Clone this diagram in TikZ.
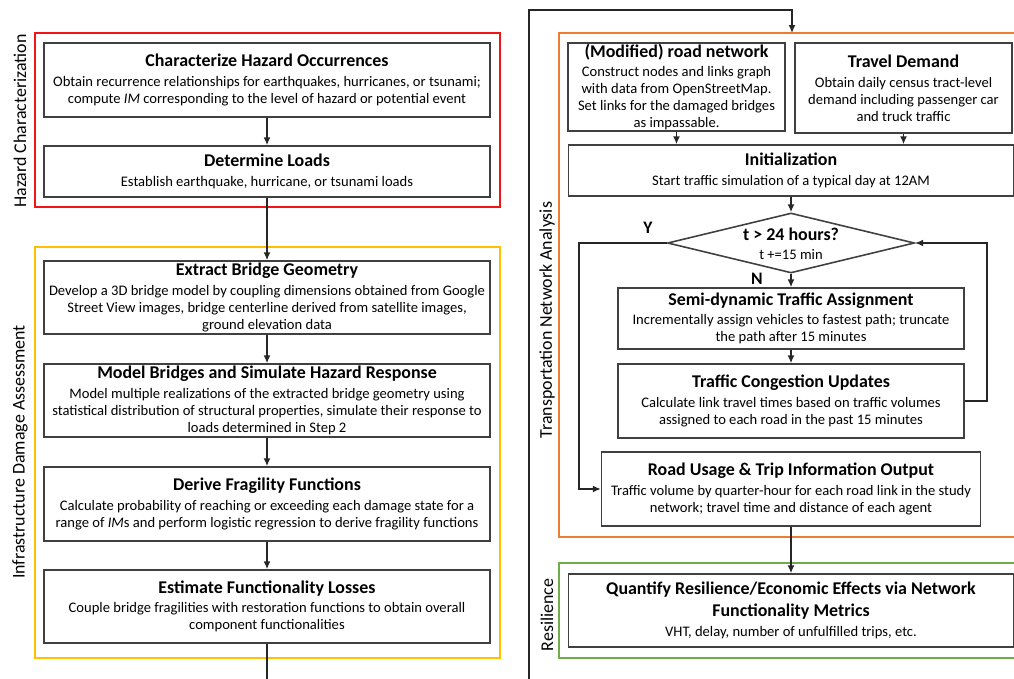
\documentclass[tikz,border=0pt]{standalone}
\usepackage{fontspec}
\setmainfont{Carlito}
\usetikzlibrary{positioning,shapes.geometric,arrows.meta}

\definecolor{hazred}{RGB}{240,20,20}
\definecolor{damgold}{RGB}{255,192,0}
\definecolor{netorange}{RGB}{237,125,49}
\definecolor{resgreen}{RGB}{112,173,71}

\newcommand{\steptitle}[1]{{\fontsize{10.2}{12}\selectfont\bfseries #1}\\[1.5pt]}

\begin{document}
\begin{tikzpicture}[x=0.02cm,y=-0.02cm,
  stepbox/.style={draw=black!75,line width=0.9pt,rectangle,align=center,inner sep=1pt,
    font=\fontsize{8.3}{9.7}\selectfont},
  frame/.style={line width=1.1pt},
  sidelabel/.style={rotate=90,font=\fontsize{10.2}{12}\selectfont},
  flow/.style={-{Latex[length=4.5pt,width=4pt]},line width=0.8pt,black!85},
  yn/.style={font=\fontsize{10}{12}\selectfont\bfseries}]

\useasboundingbox (0,0) rectangle (1014,679);
\clip (0,0) rectangle (1014,679);

% Frames of the four stages
\draw[frame,hazred] (35,33) rectangle (500,207);
\draw[frame,damgold] (35,247) rectangle (500,658);
\draw[frame,netorange] (559,33) rectangle (1040,537);
\draw[frame,resgreen] (559,563) rectangle (1040,658);

% Stage labels
\node[sidelabel] (hazlbl) at (20,121) {Hazard Characterization};
\node[sidelabel] (damlbl) at (20,452) {Infrastructure Damage Assessment};
\node[sidelabel] (netlbl) at (547,320) {Transportation Network Analysis};
\node[sidelabel] (reslbl) at (547,615) {Resilience};

% Left column
\node[stepbox,minimum width=8.92cm,minimum height=1.48cm] (hazocc) at (267,80)
  {\steptitle{Characterize Hazard Occurrences}
   Obtain recurrence relationships for earthquakes, hurricanes, or tsunami;\\
   compute \textit{IM} corresponding to the level of hazard or potential event};
\node[stepbox,minimum width=8.92cm,minimum height=1.02cm] (loads) at (267,171.5)
  {\steptitle{Determine Loads}
   Establish earthquake, hurricane, or tsunami loads};
\node[stepbox,minimum width=8.92cm,minimum height=1.46cm] (geometry) at (267,297.5)
  {\steptitle{Extract Bridge Geometry}
   Develop a 3D bridge model by coupling dimensions obtained from Google\\
   Street View images, bridge centerline derived from satellite images,\\
   ground elevation data};
\node[stepbox,minimum width=8.92cm,minimum height=1.46cm] (model) at (267,400.5)
  {\steptitle{Model Bridges and Simulate Hazard Response}
   Model multiple realizations of the extracted bridge geometry using\\
   statistical distribution of structural properties, simulate their response to\\
   loads determined in Step 2};
\node[stepbox,minimum width=8.92cm,minimum height=1.48cm] (fragility) at (267,504)
  {\steptitle{Derive Fragility Functions}
   Calculate probability of reaching or exceeding each damage state for a\\
   range of \textit{IM}s and perform logistic regression to derive fragility functions};
\node[stepbox,minimum width=8.92cm,minimum height=1.46cm] (losses) at (267,606.5)
  {\steptitle{Estimate Functionality Losses}
   Couple bridge fragilities with restoration functions to obtain overall\\
   component functionalities};

% Right column
\node[stepbox,inner ysep=0pt,minimum width=4.34cm,minimum height=1.76cm] (road) at (676.5,87)
  {\steptitle{(Modified) road network}
   Construct nodes and links graph\\
   with data from OpenStreetMap.\\
   Set links for the damaged bridges\\
   as impassable.};
\node[stepbox,minimum width=4.34cm,minimum height=1.8cm] (demand) at (903.5,88)
  {\steptitle{Travel Demand}
   Obtain daily census tract-level\\
   demand including passenger car\\
   and truck traffic};
\node[stepbox,minimum width=8.9cm,minimum height=1.02cm] (init) at (791,170.5)
  {\steptitle{Initialization}
   Start traffic simulation of a typical day at 12AM};
\node[draw=black!75,line width=0.9pt,diamond,minimum width=4.94cm,minimum height=1.2cm,
  inner sep=0pt] (check) at (791,243) {};
\node[align=center,inner sep=0pt,font=\fontsize{8.3}{9.7}\selectfont] (checktxt) at (791,244)
  {{\fontsize{10.2}{12}\selectfont\bfseries t > 24 hours?}\\[1pt] t +=15 min};
\node[stepbox,minimum width=6.92cm,minimum height=1.22cm] (semi) at (791,318.5)
  {\steptitle{Semi-dynamic Traffic Assignment}
   Incrementally assign vehicles to fastest path; truncate\\
   the path after 15 minutes};
\node[stepbox,minimum width=6.92cm,minimum height=1.48cm] (cong) at (791,401)
  {\steptitle{Traffic Congestion Updates}
   Calculate link travel times based on traffic volumes\\
   assigned to each road in the past 15 minutes};
\node[stepbox,minimum width=7.58cm,minimum height=1.48cm] (usage) at (791,489)
  {\steptitle{Road Usage \& Trip Information Output}
   Traffic volume by quarter-hour for each road link in the study\\
   network; travel time and distance of each agent};
\node[stepbox,minimum width=8.9cm,minimum height=1.46cm] (quant) at (791,610.5)
  {{\fontsize{10.2}{12.5}\selectfont\bfseries Quantify Resilience/Economic Effects via Network}\\[3pt]
   \steptitle{Functionality Metrics}
   VHT, delay, number of unfulfilled trips, etc.};

% Decision labels
\node[yn] (yes) at (648,228) {Y};
\node[yn] (no) at (757,279) {N};

% Free ends of the column link
\coordinate (leftout) at (267,679);
\coordinate (rightin) at (529,679);
\coordinate (topturn) at (529,10);
\coordinate (orangetop) at (792,33);
\coordinate (loopx) at (987,0);
\coordinate (yesx) at (579,0);

% Connectors
\draw[flow] (hazocc) -- (loads);
\draw[flow] (loads) -- (geometry);
\draw[flow] (geometry) -- (model);
\draw[flow] (model) -- (fragility);
\draw[flow] (fragility) -- (losses);
\draw[line width=0.8pt,black!85] (losses) -- (leftout);
\draw[flow] (rightin) -- (topturn) -| (orangetop);
\draw[flow] (road.south) -- (road.south |- init.north);
\draw[flow] (demand.south) -- (demand.south |- init.north);
\draw[flow] (init) -- (check);
\draw[flow] (check) -- (semi);
\draw[flow] (semi) -- (cong);
\draw[flow] (cong.east) -| (loopx |- check.east) -- (check.east);
\draw[flow] (check.west) -| (yesx |- usage.west) -- (usage.west);
\draw[flow] (usage) -- (quant);
\end{tikzpicture}
\end{document}
